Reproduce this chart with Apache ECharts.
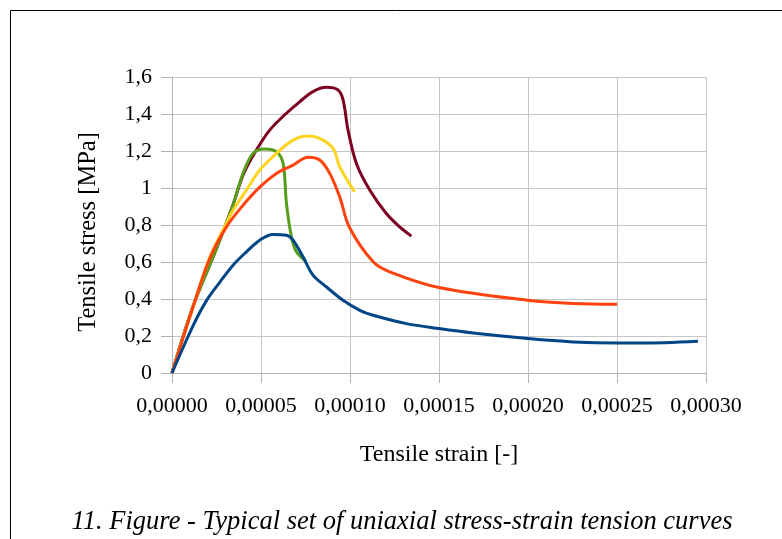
<!DOCTYPE html>
<html>
<head>
<meta charset="utf-8">
<script src="https://cdn.jsdelivr.net/npm/echarts@6/dist/echarts.min.js"></script>
<style>
  html, body { margin: 0; padding: 0; background: #fff; }
  #chart { width: 782px; height: 539px; }
</style>
</head>
<body>
<div id="chart"></div>
<script>
// Tensile strain [-] vs tensile stress [MPa], five specimens
const xTicks = [0, 0.00005, 0.0001, 0.00015, 0.0002, 0.00025, 0.0003];
const yTicks = [0, 0.2, 0.4, 0.6, 0.8, 1, 1.2, 1.4, 1.6];

const blue = [
  [0, 0], [0.0000118, 0.255], [0.0000193, 0.39], [0.0000268, 0.49], [0.0000343, 0.583],
  [0.0000418, 0.655], [0.0000493, 0.718], [0.0000567, 0.749], [0.0000643, 0.745],
  [0.000068, 0.718], [0.0000736, 0.628], [0.0000792, 0.529], [0.0000868, 0.465],
  [0.0000961, 0.393], [0.0001055, 0.339], [0.000113, 0.312], [0.0001317, 0.267],
  [0.00015, 0.240], [0.0001691, 0.216], [0.0002, 0.186], [0.0002253, 0.168],
  [0.00025, 0.162], [0.0002627, 0.162], [0.0002955, 0.172]
];
const orange = [
  [0, 0], [0.0000118, 0.357], [0.0000212, 0.619], [0.0000306, 0.79], [0.0000399, 0.907],
  [0.0000493, 1.005], [0.0000587, 1.079], [0.000068, 1.124], [0.0000764, 1.166],
  [0.000083, 1.151], [0.0000886, 1.079], [0.0000942, 0.952], [0.0000998, 0.785],
  [0.000113, 0.601], [0.0001223, 0.547], [0.00015, 0.462],
  [0.0002, 0.393], [0.0002253, 0.376], [0.00025, 0.372]
];
const yellow = [
  [0, 0], [0.0000118, 0.357], [0.0000212, 0.625], [0.0000306, 0.81], [0.0000343, 0.88],
  [0.0000418, 0.989], [0.0000493, 1.097], [0.0000587, 1.187], [0.000068, 1.259],
  [0.0000764, 1.281], [0.000083, 1.268], [0.0000905, 1.214], [0.0000942, 1.115],
  [0.0001026, 0.979]
];
const green = [
  [0, 0], [0.0000118, 0.36], [0.0000249, 0.67], [0.0000343, 0.91], [0.0000399, 1.079],
  [0.0000455, 1.187], [0.0000521, 1.211], [0.0000587, 1.196], [0.0000624, 1.133],
  [0.0000643, 0.917], [0.0000671, 0.736], [0.0000699, 0.655], [0.0000755, 0.601]
];
const darkRed = [
  [0, 0], [0.0000118, 0.36], [0.0000249, 0.67], [0.0000343, 0.91], [0.0000399, 1.07],
  [0.0000474, 1.205], [0.0000549, 1.313], [0.0000643, 1.404], [0.0000717, 1.466],
  [0.0000792, 1.521], [0.0000867, 1.544], [0.0000933, 1.53], [0.0000961, 1.476],
  [0.0000989, 1.313], [0.0001036, 1.133], [0.0001111, 0.989], [0.0001204, 0.862],
  [0.0001279, 0.79], [0.0001345, 0.74]
];

const FONT = '"Liberation Serif", "Times New Roman", serif';
const gridColor = '#c6c6c6';
const axisColor = '#b3b3b3';

function curve(data, color) {
  return {
    type: 'line',
    data: data,
    smooth: 0.35,
    showSymbol: false,
    lineStyle: { color: color, width: 3 },
    itemStyle: { color: color },
    animation: false
  };
}

const chart = echarts.init(document.getElementById('chart'), null, { renderer: 'canvas' });
chart.setOption({
  backgroundColor: '#ffffff',
  animation: false,
  grid: { left: 172, top: 77, right: 76, bottom: 166, containLabel: false },
  xAxis: {
    type: 'value',
    min: xTicks[0],
    max: xTicks[xTicks.length - 1],
    interval: xTicks[1] - xTicks[0],
    name: 'Tensile strain [-]',
    nameLocation: 'middle',
    nameGap: 70,
    nameTextStyle: { fontFamily: FONT, fontSize: 24, color: '#000' },
    axisLine: { show: true, onZero: false, lineStyle: { color: axisColor, width: 1 } },
    axisTick: { show: true, inside: false, length: 10, lineStyle: { color: axisColor } },
    axisLabel: {
      margin: 22,
      fontFamily: FONT, fontSize: 22, color: '#000',
      formatter: v => v.toFixed(5).replace('.', ',')
    },
    splitLine: { show: true, lineStyle: { color: gridColor, width: 1 } }
  },
  yAxis: {
    type: 'value',
    min: yTicks[0],
    max: yTicks[yTicks.length - 1],
    interval: 0.2,
    axisLine: { show: true, lineStyle: { color: axisColor, width: 1 } },
    axisTick: { show: true, inside: false, length: 11, lineStyle: { color: axisColor } },
    axisLabel: {
      margin: 20,
      fontFamily: FONT, fontSize: 22, color: '#000',
      formatter: v => String(Math.round(v * 10) / 10).replace('.', ',')
    },
    splitLine: { show: true, lineStyle: { color: gridColor, width: 1 } }
  },
  graphic: [
    {
      type: 'rect',
      shape: { x: 10.5, y: 10.5, width: 900, height: 700 },
      style: { fill: 'none', stroke: '#000', lineWidth: 1 },
      silent: true
    },
    {
      type: 'text',
      x: 89,
      y: 232,
      rotation: Math.PI / 2,
      style: {
        text: 'Tensile stress [MPa]',
        font: '24.5px ' + FONT,
        fill: '#000',
        align: 'center',
        verticalAlign: 'middle'
      }
    },
    {
      type: 'text',
      x: 402,
      y: 522,
      style: {
        text: '11. Figure - Typical set of uniaxial stress-strain tension curves',
        font: 'italic 26.5px ' + FONT,
        fill: '#000',
        align: 'center',
        verticalAlign: 'middle'
      }
    }
  ],
  series: [
    curve(darkRed, '#7e0021'),
    curve(green, '#579d1c'),
    curve(yellow, '#ffd320'),
    curve(orange, '#ff420e'),
    curve(blue, '#004586')
  ]
});
</script>
</body>
</html>
